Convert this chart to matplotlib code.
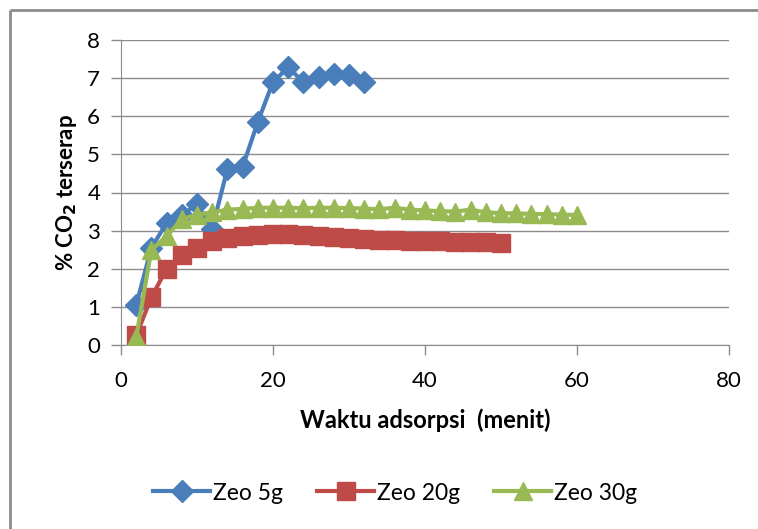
import matplotlib
matplotlib.use("Agg")
import matplotlib.pyplot as plt
from matplotlib.lines import Line2D

plt.rcParams['font.family'] = ['Lato', 'DejaVu Sans']

x5 = [2, 4, 6, 8, 10, 12, 14, 16, 18, 20, 22, 24, 26, 28, 30, 32]
y5 = [1.05, 2.55, 3.2, 3.4, 3.7, 3.05, 4.62, 4.67, 5.85, 6.9, 7.28, 6.9, 7.02, 7.1, 7.07, 6.9]

x20 = list(range(2, 52, 2))
y20 = [0.25, 1.25, 2.0, 2.35, 2.55, 2.72, 2.8, 2.85, 2.88, 2.9, 2.9, 2.88, 2.85, 2.83, 2.8,
       2.78, 2.76, 2.75, 2.74, 2.73, 2.72, 2.71, 2.7, 2.69, 2.68]

x30 = list(range(2, 62, 2))
y30 = [0.2, 2.5, 2.85, 3.3, 3.42, 3.48, 3.55, 3.57, 3.6, 3.6, 3.6, 3.59, 3.6, 3.6, 3.59,
       3.58, 3.56, 3.6, 3.55, 3.53, 3.51, 3.5, 3.55, 3.48, 3.46, 3.45, 3.44, 3.43, 3.42, 3.41]

xticks = [0, 20, 40, 60, 80]
yticks = [0, 1, 2, 3, 4, 5, 6, 7, 8]

fig = plt.figure(figsize=(7.58, 5.29), dpi=100)
W, H = 758, 529
ax = fig.add_axes([121 / W, 1 - 345 / H, (729 - 121) / W, (345 - 40) / H])

blue = '#4a7ebb'
red = '#be4b48'
green = '#98b954'

ax.plot(x5, y5, color=blue, lw=3, marker='D', ms=11, label='Zeo 5g', zorder=3)
ax.plot(x20, y20, color=red, lw=3, marker='s', ms=13, label='Zeo 20g', zorder=4)
ax.plot(x30, y30, color=green, lw=3, marker='^', ms=13, label='Zeo 30g', zorder=5)

ax.set_xlim(0, 80)
ax.set_ylim(0, 8)
ax.set_xticks(xticks)
ax.set_yticks(yticks)
ax.grid(axis='y', color='#8c8c8c', lw=1)
ax.set_axisbelow(True)
for s in ['top', 'right']:
    ax.spines[s].set_visible(False)
for s in ['left', 'bottom']:
    ax.spines[s].set_color('#8c8c8c')
ax.tick_params(axis='both', colors='#8c8c8c', labelcolor='black', labelsize=16, length=7, width=1)
ax.tick_params(axis='x', pad=12)
ax.tick_params(axis='y', pad=8)

ax.set_xlabel('Waktu adsorpsi  (menit)', fontsize=17, fontweight='bold', labelpad=12)
ax.set_ylabel('% CO$_\\mathbf{2}$ terserap', fontsize=16, fontweight='bold', labelpad=6)

leg = fig.legend(loc='center', bbox_to_anchor=(395 / W, 1 - 493 / H), ncol=3, frameon=False,
                 fontsize=16.5, handlelength=2.5, columnspacing=1.5, handletextpad=0.1)

fig.add_artist(Line2D([10 / W, 10 / W], [0, 1 - 10 / H], transform=fig.transFigure,
                      color='#8c8c8c', lw=2, solid_capstyle='butt'))
fig.add_artist(Line2D([10 / W, 1.05], [1 - 10 / H, 1 - 10 / H], transform=fig.transFigure,
                      color='#8c8c8c', lw=2, solid_capstyle='butt'))

fig.savefig('out.png', dpi=100)
